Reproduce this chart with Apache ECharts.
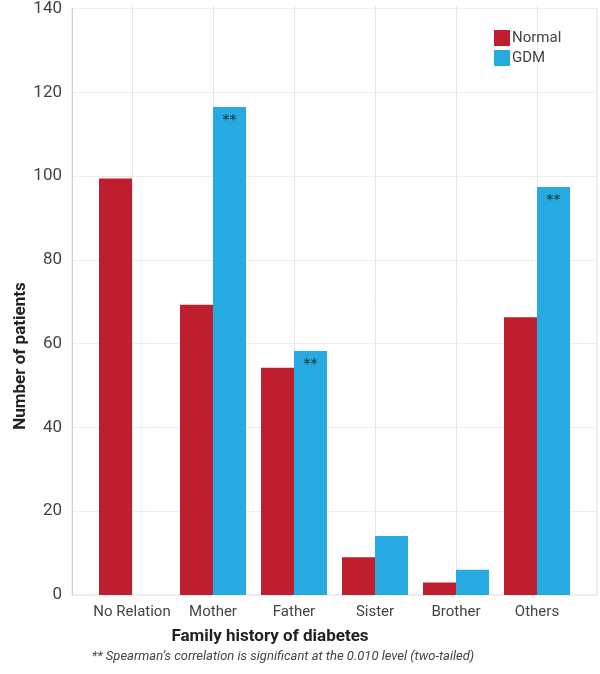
<!DOCTYPE html>
<html>
<head>
<meta charset="utf-8">
<script src="https://cdn.jsdelivr.net/npm/echarts@6/dist/echarts.min.js"></script>
<style>html,body{margin:0;padding:0;background:#fff}#c{width:600px;height:674px}</style>
</head>
<body>
<div id="c"></div>
<script>
var categories = ['No Relation', 'Mother', 'Father', 'Sister', 'Brother', 'Others'];
var normalValues = [99, 69, 54, 9, 3, 66];
var gdmValues = [0, 116, 58, 14, 6, 97];
var gdmMarks = ['', '**', '**', '', '', '**'];
var yTicks = [0, 20, 40, 60, 80, 100, 120, 140];
var seriesNames = ['Normal', 'GDM'];
var xTitle = 'Family history of diabetes';
var yTitle = 'Number of patients';
var footnote = '** Spearman\u2019s correlation is significant at the 0.010 level (two-tailed)';

var FONT = '"Roboto", "Noto Sans", sans-serif';
var RED = '#BE1E2D', BLUE = '#27AAE1';

var chart = echarts.init(document.getElementById('c'), null, {renderer: 'canvas'});
chart.setOption({
  animation: false,
  backgroundColor: '#fff',
  textStyle: {fontFamily: FONT},
  grid: [
    {left: 72, right: 3, top: 6, bottom: 79, show: true, borderColor: '#dcdcdc', borderWidth: 1},
    {left: 132, right: 63, top: 6, bottom: 79}
  ],
  legend: {
    data: seriesNames,
    orient: 'vertical',
    left: 489, top: 25,
    itemWidth: 16, itemHeight: 16, itemGap: 4,
    icon: 'rect',
    textStyle: {fontFamily: FONT, fontSize: 15, color: '#444', padding: [0, 0, 0, -3]}
  },
  xAxis: [
    {gridIndex: 0, type: 'value', min: 0, max: 1, show: false},
    {gridIndex: 1, type: 'category', data: categories, boundaryGap: false,
     axisLine: {show: false}, axisTick: {show: false},
     splitLine: {show: true, lineStyle: {color: '#e6e6e6'}},
     axisLabel: {fontFamily: FONT, fontSize: 15, color: '#444', margin: 10, interval: 0}}
  ],
  yAxis: [
    {gridIndex: 0, type: 'value', min: yTicks[0], max: yTicks[yTicks.length - 1], interval: 20,
     axisLine: {show: true, lineStyle: {color: '#cfcfcf'}}, axisTick: {show: false},
     splitLine: {show: true, lineStyle: {color: '#eeeeee'}},
     axisLabel: {fontFamily: FONT, fontSize: 17, color: '#444', margin: 10}},
    {gridIndex: 1, type: 'value', min: yTicks[0], max: yTicks[yTicks.length - 1], interval: 20, show: false}
  ],
  series: [
    {name: seriesNames[0], type: 'bar', xAxisIndex: 1, yAxisIndex: 1, data: normalValues,
     barWidth: 33, barGap: '0%', itemStyle: {color: RED}},
    {name: seriesNames[1], type: 'bar', xAxisIndex: 1, yAxisIndex: 1,
     data: gdmValues.map(function (v, i) {
       return {value: v, label: {show: gdmMarks[i] !== '', formatter: gdmMarks[i]}};
     }),
     barWidth: 33, barGap: '0%', itemStyle: {color: BLUE},
     label: {position: 'insideTop', distance: 6, color: '#222', fontSize: 14, fontFamily: 'DejaVu Sans'}}
  ],
  graphic: [
    {type: 'text', x: 270, y: 637, style: {text: xTitle, font: 'bold 17px ' + FONT, fill: '#222', textAlign: 'center', textVerticalAlign: 'middle'}},
    {type: 'text', x: 283, y: 657, style: {text: footnote, font: 'italic 13px ' + FONT, fill: '#444', textAlign: 'center', textVerticalAlign: 'middle'}},
    {type: 'text', x: 21, y: 356, rotation: Math.PI / 2, style: {text: yTitle, font: 'bold 17px ' + FONT, fill: '#222', textAlign: 'center', textVerticalAlign: 'middle'}}
  ]
});
</script>
</body>
</html>
